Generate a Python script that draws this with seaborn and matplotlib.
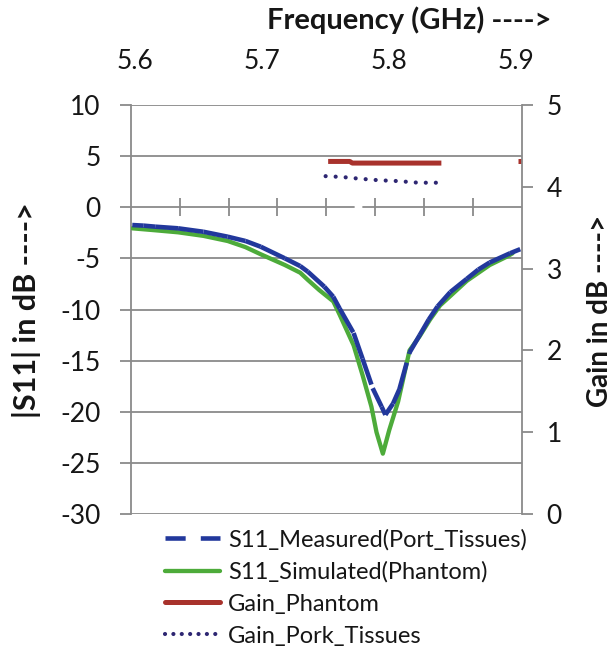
import numpy as np
import pandas as pd
import matplotlib
matplotlib.use("Agg")
import matplotlib.pyplot as plt
from matplotlib.lines import Line2D
import seaborn as sns

# ---------------- data ----------------
freq_meas = [5.598, 5.607, 5.616, 5.634, 5.654, 5.673, 5.687, 5.699, 5.718, 5.730,
             5.736, 5.749, 5.756, 5.761, 5.772, 5.779, 5.787, 5.794, 5.797, 5.803,
             5.808, 5.816, 5.824, 5.831, 5.838, 5.848, 5.861, 5.870, 5.879, 5.895, 5.903]
s11_meas = [-1.74, -1.80, -1.90, -2.06, -2.40, -2.88, -3.30, -3.86, -5.00, -5.75,
            -6.30, -7.77, -8.75, -9.90, -12.3, -14.8, -17.7, -19.5, -20.3, -19.2,
            -17.8, -14.2, -12.5, -11.0, -9.70, -8.30, -7.00, -6.10, -5.40, -4.50, -4.10]

freq_sim = [5.598, 5.616, 5.634, 5.654, 5.673, 5.687, 5.699, 5.718, 5.730, 5.736,
            5.745, 5.756, 5.761, 5.772, 5.779, 5.786, 5.790, 5.795, 5.800, 5.807,
            5.816, 5.824, 5.832, 5.840, 5.861, 5.879, 5.893, 5.897]
s11_sim = [-2.06, -2.25, -2.45, -2.80, -3.30, -3.90, -4.60, -5.65, -6.40, -7.10,
           -8.10, -9.20, -10.5, -13.5, -16.4, -19.5, -22.0, -24.1, -21.8, -19.0,
           -14.0, -12.6, -11.0, -9.60, -7.20, -5.65, -4.80, -4.50]

freq_gain_ph = [5.752, 5.769, 5.771, 5.841, 5.9015, 5.910]
gain_ph = [4.31, 4.31, 4.29, 4.29, 4.31, 4.31]
gain_ph_part = [0, 0, 0, 0, 1, 1]

freq_gain_pork = [5.750, 5.763, 5.776, 5.792, 5.807, 5.823, 5.842]
gain_pork = [4.13, 4.12, 4.10, 4.08, 4.07, 4.05, 4.05]

top_ticks = [5.6, 5.7, 5.8, 5.9]
left_ticks = [10, 5, 0, -5, -10, -15, -20, -25, -30]
right_ticks = [0, 1, 2, 3, 4, 5]
labels = ["S11_Measured(Port_Tissues)", "S11_Simulated(Phantom)",
          "Gain_Phantom", "Gain_Pork_Tissues"]

# ---------------- style ----------------
sns.set_theme(style="white")
plt.rcParams["font.family"] = ["Lato", "DejaVu Sans"]
TXT = "#161616"
GRID = "#8a8a8a"
C_BLUE = "#22389c"
C_GREEN = "#4dab3a"
C_RED = "#a8322c"
C_PURP = "#2d2672"

fig = plt.figure(figsize=(6.14, 6.53), dpi=100)
ax = fig.add_axes([131/614, 1-514/653, (521.5-131)/614, (514-105)/653])
ax2 = ax.twinx()

XL = (5.597, 5.904)

# measured: each segment drawn as its own unit so the dash pattern restarts
seg_rows = []
for i in range(len(freq_meas) - 1):
    seg_rows.append((freq_meas[i], s11_meas[i], i))
    seg_rows.append((freq_meas[i+1], s11_meas[i+1], i))
df_meas = pd.DataFrame(seg_rows, columns=["f", "v", "seg"])
df_sim = pd.DataFrame({"f": freq_sim, "v": s11_sim})

sns.lineplot(data=df_sim, x="f", y="v", color=C_GREEN, lw=3.1, sort=False,
             estimator=None, ax=ax, legend=False, zorder=3)
sns.lineplot(data=df_meas, x="f", y="v", units="seg", estimator=None, sort=False,
             color=C_BLUE, lw=3.3, linestyle=(0, (6.0, 2.0)), ax=ax,
             legend=False, zorder=4)

df_ph = pd.DataFrame({"f": freq_gain_ph, "g": gain_ph, "part": gain_ph_part})
df_pork = pd.DataFrame({"f": freq_gain_pork, "g": gain_pork})
sns.lineplot(data=df_ph, x="f", y="g", units="part", estimator=None, sort=False,
             color=C_RED, lw=3.6, ax=ax2, legend=False, solid_capstyle="butt")
sns.lineplot(data=df_pork, x="f", y="g", estimator=None, sort=False,
             color=C_PURP, lw=3.0, linestyle=(0, (0.01, 2.4)),
             dash_capstyle="round", ax=ax2, legend=False)

# ---------------- axes ----------------
ax.set_xlim(*XL)
ax2.set_xlim(*XL)
ax.set_ylim(-30, 10)
ax2.set_ylim(0, 5)

for a in (ax, ax2):
    for s in ("top", "bottom"):
        a.spines[s].set_visible(False)
    for s in ("left", "right"):
        a.spines[s].set_color(GRID)
        a.spines[s].set_linewidth(1.3)
ax.spines["right"].set_visible(False)
ax2.spines["left"].set_visible(False)

# horizontal gridlines (the 0 line is the category axis, drawn separately)
for v in left_ticks:
    if v != 0:
        ax.axhline(v, color=GRID, lw=1.3, zorder=1)
ax.axhline(0, xmin=0, xmax=0.570, color=GRID, lw=1.3, zorder=1)
ax.axhline(0, xmin=0.594, xmax=1, color=GRID, lw=1.3, zorder=1)
ax.vlines(np.linspace(XL[0], XL[1], 9)[1:-1], -0.9, 0.9, color=GRID, lw=1.3, zorder=1)

ax.set_yticks(left_ticks)
ax.set_yticklabels([str(v) for v in left_ticks])
ax.tick_params(axis="y", direction="out", length=8, width=1.3, color=GRID,
               pad=14, labelsize=19, labelcolor=TXT, left=True)
ax2.set_yticks(right_ticks)
ax2.set_yticklabels([str(v) for v in right_ticks])
ax2.tick_params(axis="y", direction="out", length=8, width=1.3, color=GRID,
                pad=10, labelsize=19, labelcolor=TXT, right=True)

ax.xaxis.tick_top()
ax.set_xticks(top_ticks)
ax.set_xticklabels([f"{v:.1f}" for v in top_ticks])
ax.tick_params(axis="x", length=0, pad=22, labelsize=19, labelcolor=TXT)
ax.set_xlabel("")
ax.set_ylabel("")
ax2.set_ylabel("")
ax.grid(False)
ax2.grid(False)

fig.text(409/614, 1-20/653, "Frequency (GHz) ---->", ha="center", va="center",
         fontsize=21, fontweight="bold", color=TXT)
fig.text(27/614, 1-310/653, "|S11| in dB ---->", ha="center", va="center",
         rotation=90, fontsize=22, fontweight="bold", color=TXT)
fig.text(600/614, 1-311/653, "Gain in dB ---->", ha="center", va="center",
         rotation=90, fontsize=20, fontweight="bold", color=TXT)

handles = [
    Line2D([], [], color=C_BLUE, lw=3.3, linestyle=(0, (4.4, 3.3))),
    Line2D([], [], color=C_GREEN, lw=3.1),
    Line2D([], [], color=C_RED, lw=3.6),
    Line2D([], [], color=C_PURP, lw=3.0, linestyle=(0, (0.01, 2.0)),
           dash_capstyle="round"),
]
fig.legend(handles, labels, loc="upper left", bbox_to_anchor=(165/614, 1-529/653),
           frameon=False, fontsize=17, handlelength=2.33, handletextpad=0.34,
           labelspacing=0.46, borderpad=0, borderaxespad=0, labelcolor=TXT)

fig.savefig("out.png", dpi=100)
